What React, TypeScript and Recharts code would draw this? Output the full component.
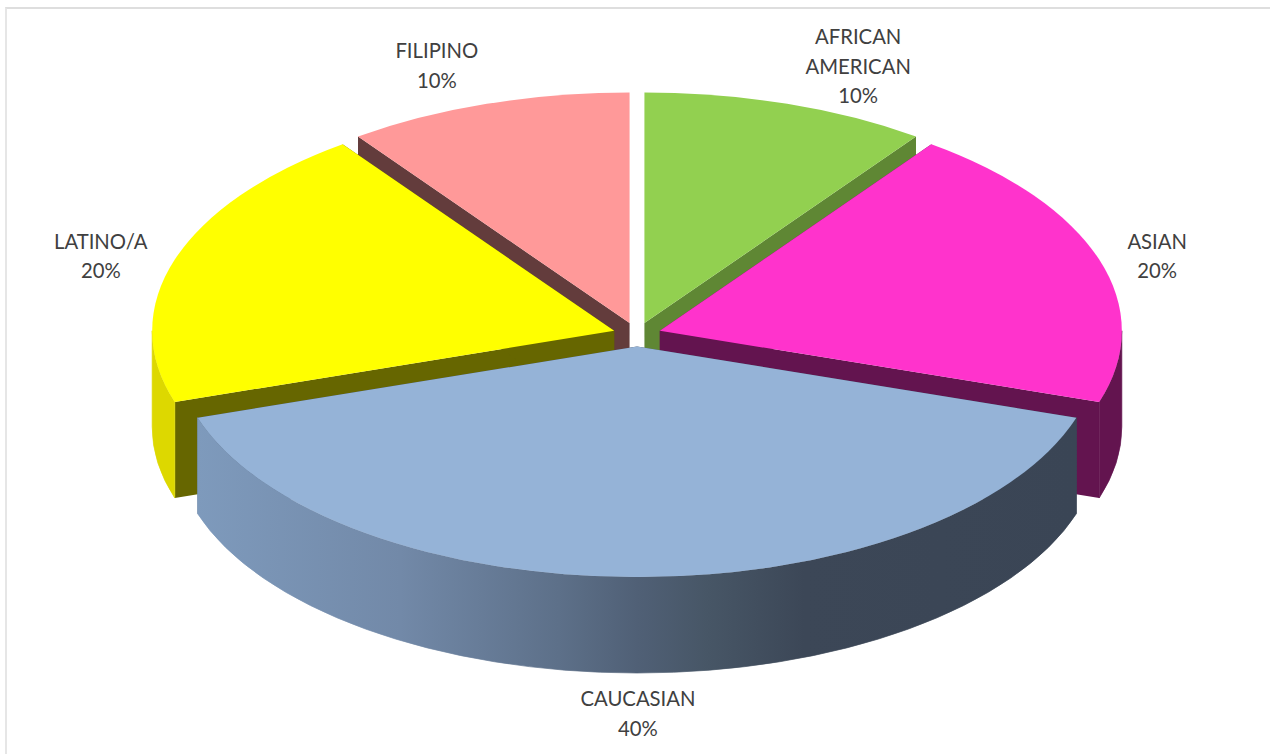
import { PieChart, Pie } from "recharts"

const categories = ["AFRICAN AMERICAN", "ASIAN", "CAUCASIAN", "LATINO/A", "FILIPINO"]
const shares = [10, 20, 40, 20, 10]

const topColors: Record<string, string> = {
  "AFRICAN AMERICAN": "#92D050",
  ASIAN: "#FF33CC",
  CAUCASIAN: "#95B3D7",
  "LATINO/A": "#FFFF00",
  FILIPINO: "#FF9999",
}
const wallColors: Record<string, string> = {
  "AFRICAN AMERICAN": "#5F8734",
  ASIAN: "#63144F",
  CAUCASIAN: "#3C4757",
  "LATINO/A": "#666600",
  FILIPINO: "#633C3C",
}
const rimColors: Record<string, string> = {
  "AFRICAN AMERICAN": "#5F8734",
  ASIAN: "#63144F",
  CAUCASIAN: "url(#caucasianRim)",
  "LATINO/A": "#DDD800",
  FILIPINO: "#633C3C",
}
// label block centre, relative to the outer edge of the slice
const labelOffsets: Record<string, [number, number]> = {
  "AFRICAN AMERICAN": [71, -38],
  ASIAN: [58, -4],
  CAUCASIAN: [1, 136],
  "LATINO/A": [-74, -4],
  FILIPINO: [-50, -39],
}

const data = categories.map((name, i) => ({ name, value: shares[i] }))

const SQUASH = 0.499 // flattening of the tilted disc
const DEPTH = 96
const EXPLODE = 24
const LINE_HEIGHT = 29.5
const RAD = Math.PI / 180

// back slices are painted first, the front one last
const layerOf = (midAngle: number) => {
  const s = Math.sin(midAngle * RAD)
  return s > 0.5 ? 0 : s > 0 ? 1 : 2
}

const renderSlice = (layer: number) => (props: any) => {
  const { cx, cy, outerRadius: r, startAngle, endAngle, midAngle, name } = props
  if (layerOf(midAngle) !== layer) return <g />

  const ox = cx + EXPLODE * Math.cos(midAngle * RAD)
  const oy = cy - EXPLODE * SQUASH * Math.sin(midAngle * RAD)
  const ry = r * SQUASH
  const px = (a: number) => ox + r * Math.cos(a * RAD)
  const py = (a: number) => oy - ry * Math.sin(a * RAD)

  const wall = (a: number) =>
    `M${ox},${oy} L${px(a)},${py(a)} L${px(a)},${py(a) + DEPTH} L${ox},${oy + DEPTH} Z`

  // only the part of the rim on the near side of the disc can be seen
  const hi = Math.min(startAngle, 0)
  const lo = Math.max(endAngle, -180)
  const rim =
    hi > lo
      ? `M${px(hi)},${py(hi)} A${r},${ry} 0 0 1 ${px(lo)},${py(lo)} ` +
        `L${px(lo)},${py(lo) + DEPTH} A${r},${ry} 0 0 0 ${px(hi)},${py(hi) + DEPTH} Z`
      : null

  const large = startAngle - endAngle > 180 ? 1 : 0
  const top = `M${ox},${oy} L${px(startAngle)},${py(startAngle)} A${r},${ry} 0 ${large} 1 ${px(endAngle)},${py(endAngle)} Z`

  return (
    <g>
      <path d={wall(startAngle)} fill={wallColors[name]} />
      <path d={wall(endAngle)} fill={wallColors[name]} />
      {/* thin stroke closes the antialiasing seam between rim and wall */}
      {rim && <path d={rim} fill={rimColors[name]} stroke={rimColors[name]} strokeWidth={0.7} />}
      <path d={top} fill={topColors[name]} />
    </g>
  )
}

const renderLabel = (props: any) => {
  const { cx, cy, outerRadius: r, midAngle, name, value } = props
  const [dx, dy] = labelOffsets[name]
  const x = cx + (r + EXPLODE) * Math.cos(midAngle * RAD) + dx
  const y = cy - (r + EXPLODE) * SQUASH * Math.sin(midAngle * RAD) + dy
  const lines = [...name.split(" "), `${value}%`]
  const firstY = y - ((lines.length - 1) * LINE_HEIGHT) / 2
  return (
    <text
      key={name}
      textAnchor="middle"
      dominantBaseline="central"
      fontFamily="Lato, sans-serif"
      fontSize={20.3}
      fill="#404040"
    >
      {lines.map((line: string, i: number) => (
        <tspan key={line} x={x} y={firstY + i * LINE_HEIGHT}>
          {line}
        </tspan>
      ))}
    </text>
  )
}

export default function App() {
  return (
    <div style={{ position: "absolute", left: 0, top: 0, width: 1270, height: 754, background: "#fff", overflow: "hidden" }}>
      <div
        style={{
          position: "absolute",
          left: 5,
          top: 7,
          width: 1265,
          height: 747,
          borderTop: "2px solid #dedede",
          borderLeft: "2px solid #e6e6e6",
          boxSizing: "border-box",
        }}
      />
      <div style={{ position: "absolute", left: 0, top: 0 }}>
        <PieChart width={1270} height={754} margin={{ top: 0, right: 0, bottom: 0, left: 0 }}>
          <defs>
            <linearGradient id="caucasianRim" gradientUnits="userSpaceOnUse" x1={198} y1={0} x2={1077} y2={0}>
              <stop offset="0" stopColor="#7E9ABC" />
              <stop offset="0.23" stopColor="#7289A8" />
              <stop offset="0.41" stopColor="#5D7089" />
              <stop offset="0.5" stopColor="#506076" />
              <stop offset="0.58" stopColor="#475666" />
              <stop offset="0.69" stopColor="#3C4757" />
              <stop offset="1" stopColor="#3A4555" />
            </linearGradient>
          </defs>
          {[0, 1, 2].map((layer) => (
            <Pie
              key={layer}
              data={data}
              dataKey="value"
              nameKey="name"
              cx={637}
              cy={334.5}
              outerRadius={462}
              startAngle={90}
              endAngle={-270}
              stroke="none"
              shape={renderSlice(layer)}
              label={layer === 2 ? renderLabel : false}
              labelLine={false}
              isAnimationActive={false}
            />
          ))}
        </PieChart>
      </div>
    </div>
  )
}
